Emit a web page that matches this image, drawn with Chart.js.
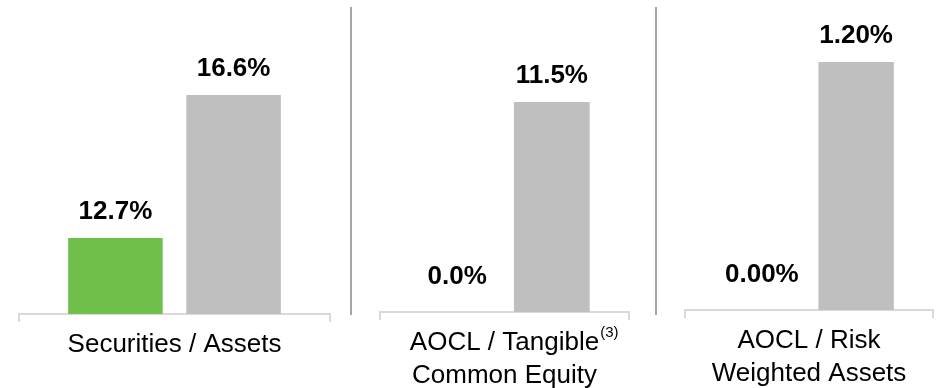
<!DOCTYPE html>
<html><head><meta charset="utf-8">
<script src="https://cdn.jsdelivr.net/npm/chart.js@4.4.1/dist/chart.umd.min.js"></script>
<style>
html,body{margin:0;padding:0;background:#fff;}
body{width:937px;height:388px;position:relative;overflow:hidden;}
canvas{position:absolute;top:0;}
.sep{position:absolute;top:7px;width:2px;height:308px;background:#a6a6a6;}
</style></head><body>
<canvas id="c0" width="319" height="388" style="left:15px"></canvas>
<canvas id="c1" width="257" height="388" style="left:376px"></canvas>
<canvas id="c2" width="256" height="388" style="left:681px"></canvas>
<div class="sep" style="left:350px"></div>
<div class="sep" style="left:655px"></div>
<script>
// ---- data ----
const categories = [["Securities / Assets"], ["AOCL / Tangible", "Common Equity"], ["AOCL / Risk", "Weighted Assets"]];
const footnotes = ["", "(3)", ""];
const seriesNames = ["Company", "Peers"];
const companyValues = [12.7, 0.0, 0.00];
const peerValues = [16.6, 11.5, 1.20];
const valueDecimals = [1, 1, 2];
const axisMin = [10.63, 0, 0];
const axisMax = [19.19, 17.09, 1.5];

// ---- styling ----
const FONT = '"Liberation Sans", Arial, sans-serif';
const axisHeights = [74, 76, 78];
const colors = ['#71bf4b', '#bfbfbf'];

const valueLabels = {
  id: 'valueLabels',
  afterDatasetsDraw(chart, args, opts) {
    const ctx = chart.ctx;
    ctx.save();
    ctx.font = 'bold 26px ' + FONT;
    ctx.fillStyle = '#000';
    ctx.textAlign = 'center';
    ctx.textBaseline = 'alphabetic';
    chart.data.datasets.forEach((ds, di) => {
      const meta = chart.getDatasetMeta(di);
      meta.data.forEach((el, i) => {
        const v = ds.data[i];
        const gap = v === 0 ? 28 : 19;
        ctx.fillText(v.toFixed(opts.decimals) + '%', el.x, el.y - gap);
      });
    });
    ctx.restore();
  }
};

const footnote = {
  id: 'footnote',
  afterDraw(chart, args, opts) {
    if (!opts.text) return;
    const sc = chart.scales.x;
    const ctx = chart.ctx;
    ctx.save();
    ctx.font = '26px ' + FONT;
    const w = ctx.measureText(opts.line).width;
    const x = sc.getPixelForValue(0) + w / 2 + 1;
    ctx.font = '15px ' + FONT;
    ctx.fillStyle = '#000';
    ctx.textAlign = 'left';
    ctx.textBaseline = 'top';
    ctx.fillText(opts.text, x, sc.top + 13);
    ctx.restore();
  }
};

for (let i = 0; i < 3; i++) {
  new Chart(document.getElementById('c' + i), {
    type: 'bar',
    data: {
      labels: [categories[i]],
      datasets: [
        { label: seriesNames[0], data: [companyValues[i]], backgroundColor: colors[0], barPercentage: 0.8, categoryPercentage: 0.76 },
        { label: seriesNames[1], data: [peerValues[i]], backgroundColor: colors[1], barPercentage: 0.8, categoryPercentage: 0.76 }
      ]
    },
    options: {
      responsive: false,
      animation: false,
      devicePixelRatio: 1,
      layout: { padding: { left: 4, right: 4, top: 0, bottom: 0 } },
      plugins: {
        legend: { display: false },
        title: { display: false },
        tooltip: { enabled: false },
        valueLabels: { decimals: valueDecimals[i] },
        footnote: { text: footnotes[i], line: categories[i][0] }
      },
      scales: {
        x: {
          offset: true,
          grid: { display: true, offset: true, drawOnChartArea: false, drawTicks: true, tickLength: 8, color: '#d9d9d9', lineWidth: 2 },
          border: { display: true, color: '#d9d9d9', width: 2 },
          ticks: { color: '#000', font: { family: FONT, size: 26, lineHeight: '33px' }, padding: 6, maxRotation: 0, autoSkip: false },
          afterFit: (s) => { s.height = axisHeights[i]; }
        },
        y: { display: false, min: axisMin[i], max: axisMax[i] }
      }
    },
    plugins: [valueLabels, footnote]
  });
}
</script>
</body></html>
